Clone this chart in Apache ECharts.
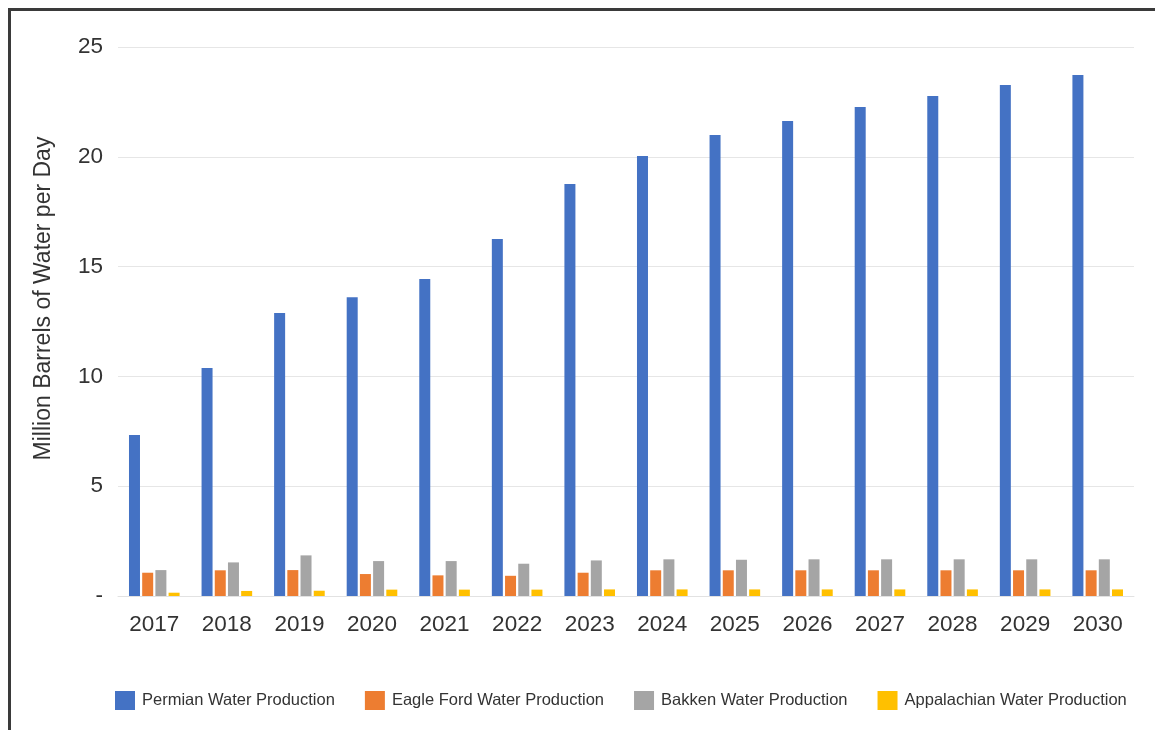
<!DOCTYPE html>
<html>
<head>
<meta charset="utf-8">
<script src="https://cdn.jsdelivr.net/npm/echarts@6/dist/echarts.min.js"></script>
<style>
  html, body { margin: 0; padding: 0; background: #fff; overflow: hidden; }
  #frame { position: absolute; left: 8px; top: 8px; width: 1200px; height: 800px;
           border-left: 3px solid #3a3a3a; border-top: 3px solid #3a3a3a; }
  #chart { position: absolute; left: 0; top: 0; width: 1155px; height: 730px; }
</style>
</head>
<body>
<div id="frame"></div>
<div id="chart"></div>
<script>
// Projected produced-water volumes by basin (million barrels of water per day)
const years = ['2017', '2018', '2019', '2020', '2021', '2022', '2023', '2024', '2025', '2026', '2027', '2028', '2029', '2030'];
const permian     = [7.33, 10.38, 12.89, 13.6, 14.43, 16.26, 18.76, 20.04, 20.99, 21.63, 22.27, 22.77, 23.27, 23.73];
const eagleFord   = [1.06, 1.17, 1.18, 1.0, 0.94, 0.92, 1.06, 1.17, 1.17, 1.17, 1.17, 1.17, 1.17, 1.17];
const bakken      = [1.18, 1.53, 1.85, 1.59, 1.59, 1.47, 1.62, 1.67, 1.65, 1.67, 1.67, 1.67, 1.67, 1.67];
const appalachian = [0.15, 0.23, 0.24, 0.29, 0.29, 0.29, 0.3, 0.3, 0.3, 0.3, 0.3, 0.3, 0.3, 0.3];
const seriesNames = ['Permian Water Production', 'Eagle Ford Water Production', 'Bakken Water Production', 'Appalachian Water Production'];
const colors = ['#4472C4', '#ED7D31', '#A5A5A5', '#FFC000'];

const font = '"Liberation Sans", Arial, Helvetica, sans-serif';
const chart = echarts.init(document.getElementById('chart'), null, { renderer: 'canvas' });

function bar(name, data, color) {
  return {
    name: name,
    type: 'bar',
    data: data,
    barWidth: 11,
    barGap: '20%',
    itemStyle: { color: color },
    emphasis: { disabled: true }
  };
}

chart.setOption({
  animation: false,
  backgroundColor: 'transparent',
  color: colors,
  grid: { left: 118, right: 21, top: 47, bottom: 134, containLabel: false },
  legend: {
    bottom: 15,
    left: 110,
    itemWidth: 20,
    itemHeight: 19,
    itemGap: 30,
    icon: 'rect',
    textStyle: { fontFamily: font, fontSize: 16.5, color: '#333', padding: [0, 0, 0, 2] },
    data: seriesNames
  },
  xAxis: {
    type: 'category',
    data: years,
    axisLine: { show: true, lineStyle: { color: '#e2e2e2', width: 1 } },
    axisTick: { show: false },
    axisLabel: { fontFamily: font, fontSize: 22.5, color: '#333', margin: 17 }
  },
  yAxis: {
    type: 'value',
    min: 0,
    max: 25,
    interval: 5,
    name: 'Million Barrels of Water per Day',
    nameLocation: 'middle',
    nameGap: 63,
    nameRotate: 90,
    nameTextStyle: { fontFamily: font, fontSize: 23, color: '#333', padding: [0, 0, 0, 46] },
    axisLine: { show: false },
    axisTick: { show: false },
    splitLine: { lineStyle: { color: '#e6e6e6', width: 1 } },
    axisLabel: {
      fontFamily: font, fontSize: 22.5, color: '#333', margin: 15,
      formatter: v => (v === 0 ? '-' : String(v))
    }
  },
  series: [
    bar(seriesNames[0], permian, colors[0]),
    bar(seriesNames[1], eagleFord, colors[1]),
    bar(seriesNames[2], bakken, colors[2]),
    bar(seriesNames[3], appalachian, colors[3])
  ]
});
</script>
</body>
</html>
